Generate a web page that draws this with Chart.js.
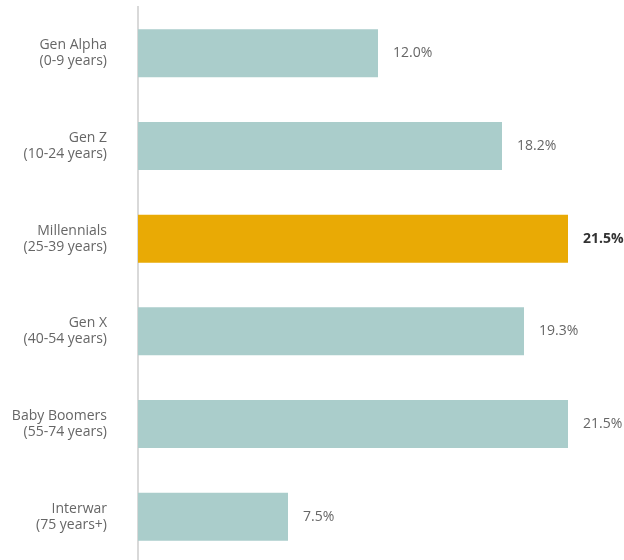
<!DOCTYPE html>
<html>
<head>
<meta charset="utf-8">
<script src="https://cdn.jsdelivr.net/npm/chart.js@4.4.0/dist/chart.umd.min.js"></script>
<style>
  html, body { margin: 0; padding: 0; background: #fff; overflow: hidden; }
  #wrap { width: 624px; height: 563px; }
</style>
</head>
<body>
<div id="wrap"><canvas id="grafico" width="624" height="563"></canvas></div>
<script>
// Dados do gráfico
const geracoes = [
    ['Gen Alpha', '(0-9 years)'],
    ['Gen Z', '(10-24 years)'],
    ['Millennials', '(25-39 years)'],
    ['Gen X', '(40-54 years)'],
    ['Baby Boomers', '(55-74 years)'],
    ['Interwar', '(75 years+)']
];
const percentuais = [12.0, 18.2, 21.5, 19.3, 21.5, 7.5];
const destaque = [false, false, true, false, false, false];

const corBarra = '#aacdcb';
const corDestaque = '#e9aa05';
const fonte = '"Open Sans", "DejaVu Sans", sans-serif';

// Rótulos de valor ao lado das barras
const rotulosValor = {
    id: 'rotulosValor',
    afterDatasetsDraw(chart) {
        const ctx = chart.ctx;
        const meta = chart.getDatasetMeta(0);
        ctx.save();
        ctx.textBaseline = 'middle';
        ctx.textAlign = 'left';
        meta.data.forEach((bar, i) => {
            const forte = destaque[i];
            ctx.font = (forte ? 'bold ' : '') + '14px ' + fonte;
            ctx.fillStyle = forte ? '#333333' : '#666666';
            ctx.fillText(percentuais[i].toFixed(1) + '%', bar.x + 15, bar.y);
        });
        ctx.restore();
    }
};

new Chart(document.getElementById('grafico').getContext('2d'), {
    type: 'bar',
    data: {
        labels: geracoes,
        datasets: [{
            data: percentuais,
            backgroundColor: destaque.map(d => d ? corDestaque : corBarra),
            borderWidth: 0,
            barPercentage: 0.518,
            categoryPercentage: 1
        }]
    },
    options: {
        indexAxis: 'y',
        responsive: false,
        animation: false,
        layout: { padding: { top: 7, bottom: 0, left: 0, right: 0 } },
        plugins: { legend: { display: false }, tooltip: { enabled: false } },
        scales: {
            x: { display: false, min: 0, max: 24.3 },
            y: {
                afterFit(scale) {
                    scale.width = 138;
                    scale.paddingTop = 0;
                    scale.paddingBottom = 0;
                },
                grid: { display: true, color: 'rgba(0,0,0,0)', drawTicks: false },
                border: { display: true, color: '#d9d9d9', width: 2 },
                ticks: {
                    padding: 31,
                    color: '#666666',
                    font: { family: fonte, size: 14, lineHeight: 1.15 }
                }
            }
        }
    },
    plugins: [rotulosValor]
});
</script>
</body>
</html>
